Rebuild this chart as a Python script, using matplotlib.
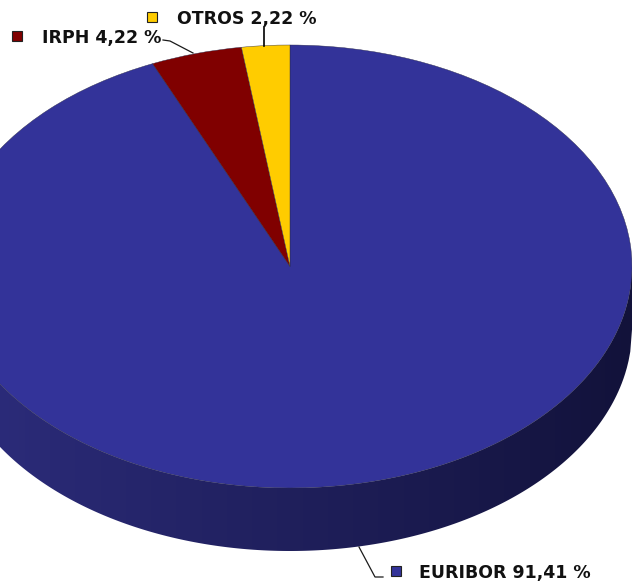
import numpy as np
import matplotlib
matplotlib.use('Agg')
import matplotlib.pyplot as plt
from matplotlib.patches import Polygon

# Datos de la tarta
categorias = ['EURIBOR', 'IRPH', 'OTROS']
porcentajes = [91.41, 4.22, 2.22]
etiquetas = ['EURIBOR 91,41 %', 'IRPH 4,22 %', 'OTROS 2,22 %']
colores = ['#333399', '#800000', '#FFCC00']

# Geometria de la elipse en pixeles
ANCHO, ALTO = 632, 586
CX, CY = 290, 266.5
RX, RY = 342, 221.5
GROSOR = 63 / RY

fig = plt.figure(figsize=(ANCHO / 100, ALTO / 100), dpi=100, facecolor='white')

# Ejes de la tarta: radio 1 en unidades de datos
ax = fig.add_axes([0, 0, 1, 1])
ax.pie(porcentajes, colors=colores, startangle=90, counterclock=False, radius=1,
       wedgeprops={'edgecolor': '#2a2a4a', 'linewidth': 0.3, 'zorder': 3})

# Pared lateral: degradado recortado con la forma del borde inferior
t = np.linspace(0, 1, 256)
izq = np.array([0x2D, 0x2D, 0x7E])
der = np.array([0x12, 0x12, 0x3A])
degradado = (izq + (der - izq) * t[:, None]) / 255
xs = np.linspace(-1, 1, 400)
borde = -np.sqrt(1 - xs ** 2)
contorno = np.column_stack([np.r_[xs, xs[::-1]], np.r_[borde, (borde - GROSOR)[::-1]]])
pared = Polygon(contorno, closed=True, transform=ax.transData, facecolor='none', edgecolor='none')
ax.add_patch(pared)
img = ax.imshow(degradado[None, :, :], extent=(-1, 1, -1 - GROSOR, 0), aspect='auto',
                interpolation='bilinear', zorder=1)
img.set_clip_path(pared)

ax.set_aspect('auto')
ax.set_xlim(-CX / RX, (ANCHO - CX) / RX)
ax.set_ylim((CY - ALTO) / RY, CY / RY)

# Ejes en pixeles para leyendas y lineas guia
ov = fig.add_axes([0, 0, 1, 1], facecolor='none')
ov.set_xlim(0, ANCHO)
ov.set_ylim(ALTO, 0)
ov.axis('off')

ov.plot([163, 170, 193], [40, 41, 53], color='#1a1a1a', lw=0.9)
ov.plot([264, 264], [27, 46], color='black', lw=1.2)
ov.plot([359, 375, 383], [547, 577, 577], color='#1a1a1a', lw=0.9)

pos_marca = [(396, 571), (17, 36), (152, 17)]
pos_texto = [(419, 578), (42, 43), (177, 24)]
for etq, col, pm, pt in zip(etiquetas, colores, pos_marca, pos_texto):
    ov.plot(*pm, marker='s', ms=7.2, mfc=col, mec='#222222', mew=0.8, ls='none')
    ov.text(pt[0], pt[1], etq, fontsize=12.5, fontweight='bold', family='DejaVu Sans',
            color='#111111', ha='left', va='baseline')

plt.savefig('out.png', dpi=100)
plt.close()
